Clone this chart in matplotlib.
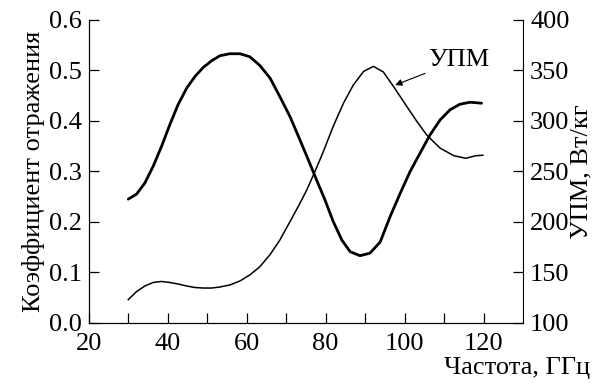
import matplotlib.pyplot as plt
import numpy as np

plt.rcParams['font.family'] = ['Liberation Serif', 'DejaVu Serif']

# Коэффициент отражения (левая ось)
x_refl = [30.0, 32.1, 34.2, 36.3, 38.4, 40.5, 42.6, 44.8, 46.9, 49.0, 51.1, 53.2, 55.7, 58.3,
          60.8, 63.3, 65.9, 68.4, 71.0, 73.5, 75.6, 77.7, 79.8, 81.9, 84.1, 86.2, 88.7, 91.2,
          93.8, 96.3, 98.9, 101.4, 103.9, 106.4, 109.0, 111.5, 114.0, 116.6, 119.5]
y_refl = [0.245, 0.255, 0.277, 0.310, 0.349, 0.392, 0.432, 0.465, 0.488, 0.506, 0.519, 0.529,
          0.533, 0.533, 0.527, 0.510, 0.485, 0.448, 0.408, 0.362, 0.323, 0.283, 0.244, 0.201,
          0.164, 0.141, 0.133, 0.138, 0.160, 0.210, 0.257, 0.300, 0.336, 0.372, 0.402, 0.422,
          0.433, 0.437, 0.435]

# УПМ, Вт/кг (правая ось)
x_sar = [30.0, 32.1, 34.2, 36.3, 38.4, 40.5, 42.6, 44.8, 46.9, 49.0, 51.1, 53.2, 55.7, 58.3,
         60.8, 63.3, 65.9, 68.4, 71.0, 73.5, 75.2, 77.3, 79.4, 81.9, 84.5, 87.0, 89.6, 92.1,
         94.6, 97.2, 100.6, 103.1, 105.6, 109.0, 112.5, 115.5, 118.0, 119.8]
y_sar = [123, 131, 136.5, 140, 141, 140, 138.5, 136.5, 135, 134.5, 134.5, 135.5, 137.5, 141.5,
         147.5, 155.5, 167.5, 182, 200.5, 218.5, 231.5, 250, 269.5, 294.5, 317.5, 335.5, 349, 354,
         348.5, 334, 314, 299.5, 286, 273, 265.5, 263, 265.5, 266]

fig = plt.figure(figsize=(6.04, 3.83), dpi=100)
ax = fig.add_axes([0.147, 0.157, 0.719, 0.791])
ax2 = ax.twinx()

ax.plot(x_refl, y_refl, color='black', lw=2.0, solid_capstyle='round', solid_joinstyle='round')
ax2.plot(x_sar, y_sar, color='black', lw=1.1, solid_joinstyle='round')

ax.set_xlim(20, 130)
ax.set_ylim(0, 0.6)
ax2.set_ylim(100, 400)

ax.set_xticks(np.arange(20, 121, 20))
ax.set_xticks(np.arange(30, 121, 10), minor=True)
ax.set_yticks(np.arange(0, 0.61, 0.1))
ax.set_yticklabels(['0.0', '0.1', '0.2', '0.3', '0.4', '0.5', '0.6'])
ax2.set_yticks(np.arange(100, 401, 50))

for a in (ax, ax2):
    a.spines['top'].set_visible(False)
    a.tick_params(direction='in', length=7, width=0.9, labelsize=19, pad=5)
    a.tick_params(which='minor', direction='in', length=7, width=0.9)
ax.spines['right'].set_visible(False)
ax.tick_params(axis='x', pad=7)

ax.set_ylabel('Коэффициент отражения', fontsize=19, labelpad=3)
ax2.set_ylabel('УПМ, Вт/кг', fontsize=19, labelpad=1)
fig.text(0.977, 0.04, 'Частота, ГГц', fontsize=19, ha='right', va='center')

ax.annotate('УПМ', xy=(97.6, 0.471), xytext=(105.9, 0.52), fontsize=19,
            va='center', ha='left',
            arrowprops=dict(arrowstyle='-|>', color='black', lw=0.8,
                            mutation_scale=10, shrinkA=0, shrinkB=0))

fig.savefig('out.png', dpi=100)
